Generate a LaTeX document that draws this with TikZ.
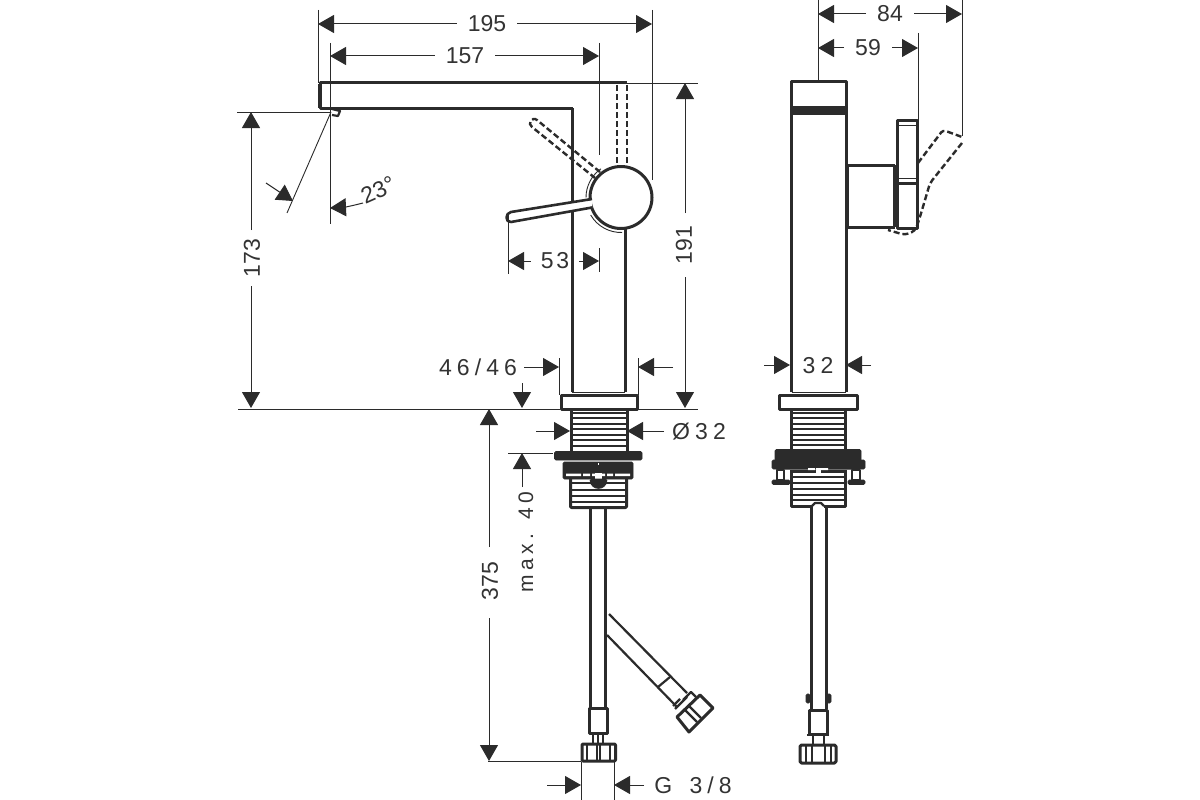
\documentclass[tikz,border=0pt]{standalone}
\usepackage{fontspec}
\setmainfont{Liberation Sans}
\newfontfamily\spaced[LetterSpace=22]{Liberation Sans}
\newfontfamily\spacedb[LetterSpace=12]{Liberation Sans}
\usetikzlibrary{arrows.meta}
\definecolor{ink}{HTML}{2B2B2B}
\definecolor{txt}{HTML}{333333}
\tikzset{
 x=1pt,y=-1pt,
 ext/.style={draw=ink,line width=0.9pt},
 dim/.style={draw=ink,line width=1pt,-{Triangle[length=16pt,width=18pt]}},
 lab/.style={text=txt,font=\fontsize{23}{25}\selectfont,inner sep=0pt,inner xsep=11pt},
 slab/.style={text=txt,font=\fontsize{23}{25}\selectfont\spaced,inner sep=0pt,inner xsep=10pt},
 body/.style={draw=ink,line width=3pt,line join=round},
 med/.style={draw=ink,line width=2.2pt,line join=round},
 thin/.style={draw=ink,line width=0.9pt},
 dsh/.style={draw=ink,line width=2.4pt,dash pattern=on 6pt off 3pt,line join=round},
 solid ink/.style={fill=ink,draw=ink,line width=0.8pt,rounded corners=1.5pt},
}
\begin{document}
\begin{tikzpicture}
\useasboundingbox[fill=white] (0,0) rectangle (1200,800);

% ---- front view: spout, body, lever
\draw[body] (573,108.5) -- (320,108.5) -- (320,83) -- (627,83);
\draw[draw=ink,line width=4pt] (320,84) -- (320,108);
\draw[med] (332,109) -- (340,111) -- (338,116) -- (332,115);
\draw[body] (572,108) -- (572,392);
\draw[body] (625.5,228) -- (625.5,392);
\draw[thin] (572,392) -- (625,392);
\draw[dsh] (617,85) -- (617,166);
\draw[dsh] (627,85) -- (627,166);
\draw[dsh] (600,172) -- (537,120) .. controls (532,116) and (527,124) .. (532,127) -- (595,178);
\fill[white] (621,197.5) circle (31);
\draw[body] (621,197.5) circle (31);
\draw[thin] (621,197.5) +(235:35) arc[start angle=235,end angle=180,radius=35];
\draw[thin] (621,197.5) +(150:35) arc[start angle=150,end angle=88,radius=35];
\fill[white] (592,200) -- (510,212) -- (510,222) -- (592,208) -- cycle;
\draw[med,line width=2.6pt] (592,199) -- (511,212) .. controls (505,213) and (505,222.5) .. (511,222) -- (592,207.5);

% ---- front view: flange and threads
\draw[body] (561,395.5) rectangle (637,409.5);
\foreach \yy in {412.5,418,423.5,429,434.5,440,445.5}{\draw[draw=ink,line width=2pt] (571,\yy) -- (627,\yy);}
\draw[body] (571,410) -- (571,451);
\draw[body] (627,410) -- (627,451);
\filldraw[solid ink] (554.5,451.5) rectangle (642,460);
\filldraw[solid ink] (563,462) rectangle (633,479);
\fill[white] (566,473.5) rectangle (581,476) (583,473.5) rectangle (590,476) (592,473.5) rectangle (595,476)
 (602,473.5) rectangle (605,476) (607,473.5) rectangle (613,476) (615,473.5) rectangle (630,476);
\fill[white] (595,472.5) rectangle (602,480);
\fill[white] (597.5,462.5) rectangle (599,464.5);
\foreach \yy in {483,489.5,496,502}{\draw[draw=ink,line width=2pt] (571,\yy) -- (626,\yy);}
\filldraw[solid ink] (590,479) .. controls (591,491) and (606,491) .. (607,479) -- cycle;
\draw[body,rounded corners=1pt] (570.5,479) -- (570.5,507.5) -- (626.5,507.5) -- (626.5,479);

% ---- front view: hoses
\draw[body] (590.5,508) -- (590.5,708);
\draw[body] (605.5,508) -- (605.5,708);
\draw[med] (609,614) -- (687,693);
\draw[med] (607,635) -- (677,707);
\draw[med] (670,677) -- (658,687);
\draw[body] (589,733.5) -- (589,708.5) -- (607,708.5) -- (607,733.5) -- cycle;
\draw[med] (593,734) -- (593,743) (598,734) -- (598,743) (603,734) -- (603,743);
\draw[body,rounded corners=1pt] (582,744) rectangle (615.5,761);
\draw[med] (587,744) -- (587,761) (597,744) -- (597,761) (600,744) -- (600,761) (610,744) -- (610,761);
% angled nut
\draw[body] (677,717) -- (700,695) -- (713,708) -- (689,732) -- cycle;
\draw[med] (683,700) -- (691,692) -- (696,697);
\draw[med] (675,709) -- (687,697);
\draw[med] (688,705) -- (701,718);
\draw[med] (684,709) -- (697,722);
\draw[med] (673,706) -- (680,699);

% ---- side view
\draw[body] (791.5,392) -- (791.5,82) -- (846,82) -- (846,392);
\fill[ink] (791,106) rectangle (846,115);
\draw[thin] (791.5,392) -- (846,392);
\draw[body] (846,165.5) -- (895,165.5) (846,227) -- (895,227);
\draw[body] (894,165) -- (894,227);
\draw[thin] (848.5,166) -- (848.5,226);
\draw[body] (897,228) -- (897,120.5) -- (917,120.5) -- (917,228) -- cycle;
\draw[thin] (897,125.5) -- (917,125.5) (897,178.5) -- (917,178.5);
\draw[med] (897,183.5) -- (917,183.5);
\draw[dsh,rounded corners=3pt] (918,163) -- (943,130) -- (962,137);
\draw[dsh,rounded corners=4pt] (962,143) -- (930,183) -- (925,200) -- (919,220) -- (915,231) -- (905,235) -- (888,230);
\draw[body] (779.5,395.5) rectangle (857.5,409.5);
\foreach \yy in {412.5,418,423.5,429,434.5,440,445}{\draw[draw=ink,line width=2pt] (791,\yy) -- (845,\yy);}
\draw[body] (791,410) -- (791,450);
\draw[body] (845,410) -- (845,450);
\filldraw[solid ink] (775,449.5) rectangle (861,469);
\filldraw[solid ink] (772,460) rectangle (865,469);
\foreach \xa/\xb in {777/784,852/860}{
  \draw[med] (\xa,470) rectangle (\xb,480);
}
\filldraw[solid ink] (772,480) rectangle (790,484.5);
\filldraw[solid ink] (848,480) rectangle (865,484.5);
\draw[med] (790,471.5) -- (846,471.5);
\fill[white] (808,468) rectangle (815,470) (821,468) rectangle (828,470);
\fill[white] (815.5,468) rectangle (821,474);
\foreach \yy in {476.5,483,489,494.5,499.5}{\draw[draw=ink,line width=2pt] (791,\yy) -- (845,\yy);}
\draw[body] (791,470) -- (791,506) -- (812,506) (824,506) -- (845,506) -- (845,470);
\draw[med] (812,506) -- (815,503) -- (821,503) -- (824,506);
\draw[body] (811,506) -- (811,709);
\draw[body] (826,506) -- (826,709);
\filldraw[solid ink] (806,694) rectangle (810,703) (827,694) rectangle (831,703);
\draw[body] (809.5,710) rectangle (827.5,734);
\draw[med] (807,735) -- (829,735);
\draw[med] (813,735) -- (813,744) (824,735) -- (824,744);
\draw[body,rounded corners=1.5pt] (800,745) rectangle (836,763);
\draw[med] (806,745) -- (806,763) (812,745) -- (812,763) (825,745) -- (825,763) (831,745) -- (831,763);

% ---- extension lines
\draw[ext] (318,10) -- (318,83);
\draw[ext] (652,10) -- (652,180);
\draw[ext] (330,43) -- (330,224);
\draw[ext] (599,43) -- (599,155);
\draw[ext] (237,112) -- (331,112);
\draw[ext] (331,112) -- (287,213);
\draw[ext] (627,83) -- (698,83);
\draw[ext] (238,409) -- (560,409) (637,409) -- (698,409);
\draw[ext] (508,215) -- (508,274);
\draw[ext] (599,248) -- (599,272);
\draw[ext] (559,358) -- (559,395) (638,358) -- (638,395);
\draw[ext] (508,453) -- (553,453);
\draw[ext] (488,761) -- (581,761);
\draw[ext] (581,762) -- (581,800) (614,762) -- (614,800);
\draw[ext] (818,0) -- (818,81);
\draw[ext] (962,0) -- (962,136);
\draw[ext] (918,33) -- (918,164);

% ---- dimensions with text between two arrows
\node[lab] (d195) at (487,24) {195};
\coordinate (d195a) at (318,24); \coordinate (d195b) at (652,24);
\draw[dim] (d195) -- (d195a); \draw[dim] (d195) -- (d195b);
\node[lab] (d157) at (465,56) {157};
\coordinate (d157a) at (330,56); \coordinate (d157b) at (599,56);
\draw[dim] (d157) -- (d157a); \draw[dim] (d157) -- (d157b);
\node[lab,rotate=90,inner xsep=0pt,inner ysep=0pt,inner sep=0pt,minimum width=56pt] (d173) at (252,258) {173};
\coordinate (d173a) at (251,112); \coordinate (d173b) at (251,408);
\draw[dim] (251,230) -- (d173a); \draw[dim] (251,286) -- (d173b);
\node[lab,rotate=90,inner xsep=0pt,minimum width=64pt] (d191) at (684,245) {191};
\coordinate (d191a) at (685,83); \coordinate (d191b) at (685,408);
\draw[dim] (685,213) -- (d191a); \draw[dim] (685,277) -- (d191b);
\node[slab,font=\fontsize{23}{25}\selectfont\spacedb] (d53) at (555,261) {53};
\coordinate (d53a) at (508,261); \coordinate (d53b) at (599,261);
\draw[dim] (d53) -- (d53a); \draw[dim] (d53) -- (d53b);
\node[lab,rotate=90,inner xsep=0pt,minimum width=68pt] (d375) at (490,581) {375};
\coordinate (d375a) at (489,409); \coordinate (d375b) at (489,761);
\draw[dim] (489,547) -- (d375a); \draw[dim] (489,618) -- (d375b);
\node[lab] (d84) at (890,14) {84};
\coordinate (d84a) at (818,14); \coordinate (d84b) at (962,14);
\draw[dim] (d84) -- (d84a); \draw[dim] (d84) -- (d84b);
\node[lab] (d59) at (868,48) {59};
\coordinate (d59a) at (818,48); \coordinate (d59b) at (918,48);
\draw[dim] (d59) -- (d59a); \draw[dim] (d59) -- (d59b);
\node[slab] (d32s) at (818,366) {32};
\coordinate (d32a) at (764,365); \coordinate (d32b) at (790,365);
\coordinate (d32c) at (871,365); \coordinate (d32d) at (846,365);
\draw[dim] (d32a) -- (d32b); \draw[dim] (d32c) -- (d32d);

% ---- dimensions with text beside the arrows
\node[slab] (d46) at (478,367) {46/46};
\coordinate (d46a) at (524,367); \coordinate (d46b) at (559,367);
\coordinate (d46c) at (673,367); \coordinate (d46d) at (638,367);
\draw[dim] (d46a) -- (d46b); \draw[dim] (d46c) -- (d46d);
\coordinate (dn1) at (522,383); \coordinate (dn2) at (522,408);
\draw[dim] (dn1) -- (dn2);
\node[slab] (dphi) at (699,432) {Ø32};
\coordinate (dp1) at (536,431); \coordinate (dp2) at (570,431);
\coordinate (dp3) at (664,431); \coordinate (dp4) at (627,431);
\draw[dim] (dp1) -- (dp2); \draw[dim] (dp3) -- (dp4);
\node[slab,rotate=90,inner xsep=0pt,font=\fontsize{21}{23}\selectfont\spaced] (dmax) at (526,542) {max. 40};
\coordinate (dm1) at (522,487); \coordinate (dm2) at (522,453);
\draw[dim] (dm1) -- (dm2);
\node[slab] (dg) at (693,785) {G\hspace{6pt} 3/8};
\coordinate (dg1) at (547,785); \coordinate (dg2) at (581,785);
\coordinate (dg3) at (644,785); \coordinate (dg4) at (614,785);
\draw[dim] (dg1) -- (dg2); \draw[dim] (dg3) -- (dg4);

% ---- angle
\node[lab,rotate=24,inner xsep=0pt] (d23) at (378,190) {23°};
\coordinate (da1) at (266,183); \coordinate (da2) at (293,201);
\coordinate (da3) at (363,203); \coordinate (da4) at (330,208);
\draw[dim] (da1) -- (da2);
\draw[dim] (da3) to[bend left=6] (da4);
\end{tikzpicture}
\end{document}
